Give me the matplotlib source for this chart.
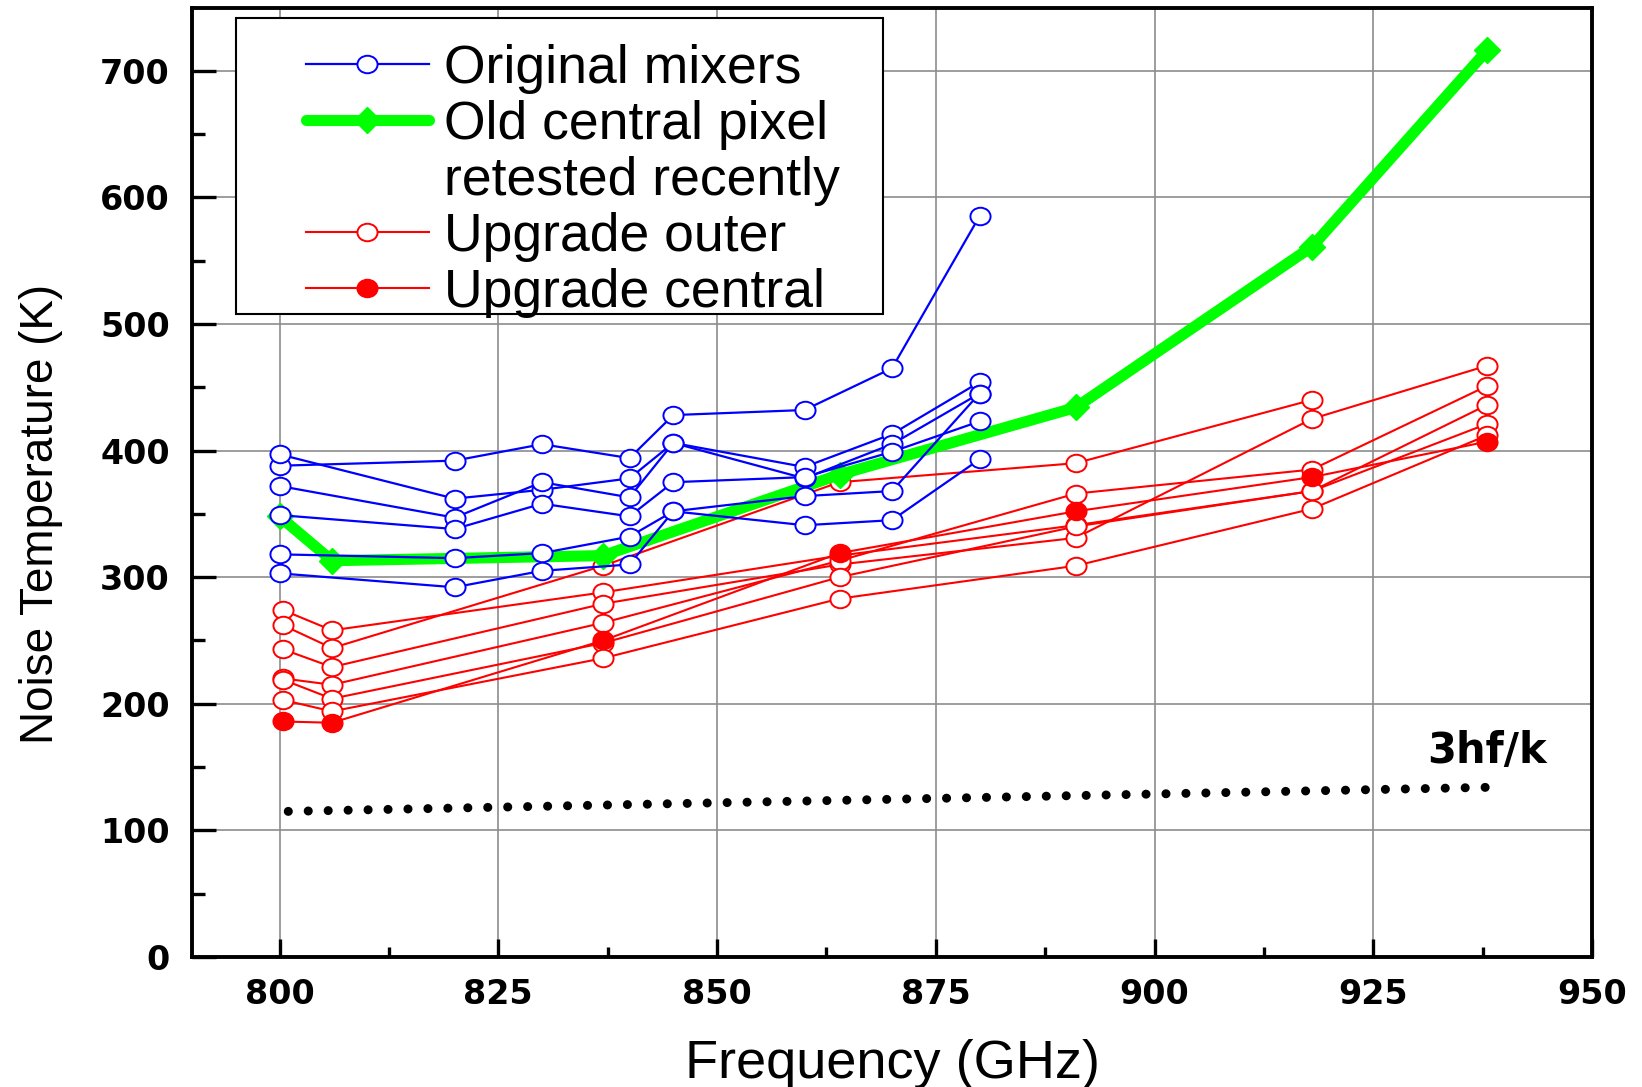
import matplotlib
matplotlib.use('Agg')
import matplotlib.pyplot as plt
import numpy as np
from matplotlib.lines import Line2D
from matplotlib.patches import Rectangle
from matplotlib.path import Path
from matplotlib.ticker import MultipleLocator

plt.rcParams['font.family'] = ['Liberation Sans', 'DejaVu Sans']

# ---------------- data ----------------
blue_freq = [800, 820, 830, 840, 845, 860, 870, 880]
blue_1 = [388, 392, 405, 394, 428, 432, 465, 585]
blue_2 = [397, 362, 369, 378, 406, 387, 413, 454]
blue_3 = [372, 347, 375, 363, 406, 378, 405, 445]
blue_4 = [349, 338, 358, 348, 375, 379, 399, 423]
blue_5 = [318, 315, 319, 332, 352, 364, 368, 445]
blue_6 = [303, 292, 305, 310, 352, 341, 345, 393]

green_freq = [800, 806, 837, 864, 891, 918, 938]
green_vals = [348, 313, 317, 381, 434, 561, 716]

red_freq = [800.4, 806, 837, 864, 891, 918, 938]
red_1 = [274, 258, 288, 317, 341, 368, 421]
red_2 = [262, 244, 309, 375, 390, 440, np.nan]
red_3 = [243, 229, 279, 310, 331, 425, 467]
red_4 = [220, 215, 264, 313, 366, 385, 451]
red_5 = [219, 204, 248, 300, 340, 368, 436]
red_6 = [203, 194, 236, 283, 309, 354, 412]
red_central = [186, 185, 250, 319, 352, 379, 407]

hf_freq = [801, 938]
hf_vals = [115, 134]

x_ticks = [800, 825, 850, 875, 900, 925, 950]
y_ticks = [0, 100, 200, 300, 400, 500, 600, 700]

legend_labels = ['Original mixers', 'Old central pixel', 'retested recently',
                 'Upgrade outer', 'Upgrade central']

# ---------------- figure ----------------
W, H = 1642, 1087
fig = plt.figure(figsize=(W / 100, H / 100), dpi=100)
ax = fig.add_axes([192 / W, 1 - 957 / H, 1400 / W, 949 / H])

BLUE = '#0000ff'
RED = '#ff0000'
GREEN = '#00ff00'

# slightly wide circle marker (as in the reference)
_uc = Path.unit_circle()
ELL = Path(_uc.vertices * np.array([1.15, 1.0]), _uc.codes)

ms = 14.5
for s in [red_1, red_2, red_3, red_4, red_5, red_6]:
    ax.plot(red_freq, s, color=RED, lw=1.5, marker=ELL, ms=ms,
            mfc='white', mec=RED, mew=1.4, zorder=3)
ax.plot(red_freq, red_central, color=RED, lw=1.5, marker=ELL, ms=ms,
        mfc=RED, mec=RED, mew=1.4, zorder=3.1)

ax.plot(green_freq, green_vals, color=GREEN, lw=8, marker='D', ms=13,
        mfc=GREEN, mec=GREEN, solid_joinstyle='round', zorder=4)

for s in [blue_1, blue_2, blue_3, blue_4, blue_5, blue_6]:
    ax.plot(blue_freq, s, color=BLUE, lw=1.6, marker=ELL, ms=ms,
            mfc='white', mec=BLUE, mew=1.4, zorder=5)

ax.plot(hf_freq, hf_vals, color='black', lw=6.5, linestyle=(0, (0.01, 2.2)),
        dash_capstyle='round', zorder=3)
ax.text(938, 153, '3hf/k', ha='center', va='baseline', fontsize=30,
        fontweight='bold', family=['DejaVu Sans'])

# axes
ax.set_xlim(790, 950)
ax.set_ylim(0, 749.5)
ax.set_xticks(x_ticks)
ax.set_xticklabels([str(v) for v in x_ticks])
ax.set_yticks(y_ticks)
ax.set_yticklabels([str(v) for v in y_ticks])
ax.xaxis.set_minor_locator(MultipleLocator(12.5))
ax.yaxis.set_minor_locator(MultipleLocator(50))
ax.grid(True, which='major', color='#8c8c8c', lw=1.2, zorder=0)
ax.set_axisbelow(True)

ax.xaxis.set_tick_params(which='major', direction='in', length=13, width=2.4, pad=15)
ax.xaxis.set_tick_params(which='minor', direction='in', length=7, width=2.4)
ax.yaxis.set_tick_params(which='major', direction='in', length=17, width=2.4, pad=16)
ax.yaxis.set_tick_params(which='minor', direction='in', length=9, width=2.4)
ax.tick_params(top=False, right=False, which='both')
for lab in ax.get_xticklabels() + ax.get_yticklabels():
    lab.set_fontfamily('DejaVu Sans')
    lab.set_fontweight('bold')
    lab.set_fontsize(24)

for side in ['left', 'bottom', 'right', 'top']:
    ax.spines[side].set_linewidth(2.8)
    ax.spines[side].set_color('black')

ax.set_xlabel('Frequency (GHz)', fontsize=39)
ax.set_ylabel('Noise Temperature (K)', fontsize=33)
ax.xaxis.set_label_coords(0.5, -0.113)
ax.xaxis.label.set_verticalalignment('center')
ax.yaxis.set_label_coords(-0.108, 0.4667)
ax.yaxis.label.set_verticalalignment('center')

# legend
handles = [
    Line2D([], [], color=BLUE, lw=1.6, marker=ELL, ms=ms, mfc='white', mec=BLUE, mew=1.4),
    Line2D([], [], color=GREEN, lw=8, marker='D', ms=13, mfc=GREEN, mec=GREEN,
           solid_capstyle='round'),
    Line2D([], [], color='none'),
    Line2D([], [], color=RED, lw=1.5, marker=ELL, ms=ms, mfc='white', mec=RED, mew=1.4),
    Line2D([], [], color=RED, lw=1.5, marker=ELL, ms=ms, mfc=RED, mec=RED, mew=1.4),
]
ax.add_patch(Rectangle((235.6 / W, 1 - 314 / H), (882.8 - 235.6) / W, (314 - 17.8) / H,
                       transform=fig.transFigure, facecolor='white', edgecolor='black',
                       lw=1.5, zorder=6))
leg = ax.legend(handles, legend_labels, loc='upper left',
                bbox_to_anchor=(305.8 / W, 1 - 44 / H), bbox_transform=fig.transFigure,
                frameon=False, fontsize=38.5, handlelength=2.3, handletextpad=0.28,
                borderpad=0, borderaxespad=0, labelspacing=0.11)
leg.set_zorder(7)

fig.savefig('out.png', dpi=100)
